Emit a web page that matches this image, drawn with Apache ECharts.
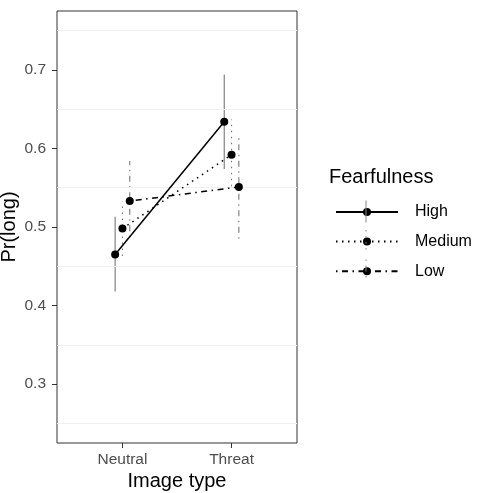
<!DOCTYPE html>
<html><head><meta charset="utf-8">
<script src="https://cdn.jsdelivr.net/npm/echarts@6/dist/echarts.min.js"></script>
<style>html,body{margin:0;padding:0;background:#fff}#c{width:479px;height:493px}</style>
</head><body><div id="c"></div>
<script>
const categories = ['Neutral', 'Threat'];
const groups = ['High', 'Medium', 'Low'];
const estimates = { High: [0.465, 0.634], Medium: [0.498, 0.592], Low: [0.533, 0.551] };
const lower = { High: [0.418, 0.574], Medium: [0.463, 0.552], Low: [0.487, 0.485] };
const upper = { High: [0.513, 0.694], Medium: [0.532, 0.637], Low: [0.584, 0.618] };
const yTicks = [0.3, 0.4, 0.5, 0.6, 0.7];
const gridLines = [0.25, 0.35, 0.45, 0.55, 0.65, 0.75];
const dodge = { High: -0.067, Medium: 0, Low: 0.067 };
const dashes = { High: 'solid', Medium: [1.5, 4.5], Low: [1.5, 4.5, 6, 4.5] };

const font = 'Liberation Sans, Arial, sans-serif';
const series = [];
groups.forEach(g => {
  series.push({
    name: g, type: 'line',
    data: categories.map((c, i) => [i + 1 + dodge[g], estimates[g][i]]),
    symbol: 'circle', symbolSize: 8,
    itemStyle: { color: '#000' },
    lineStyle: { color: '#000', width: 1.5, type: dashes[g] },
    z: 5
  });
  series.push({
    name: g + '_err', type: 'custom',
    data: categories.map((c, i) => [i + 1 + dodge[g], lower[g][i], upper[g][i]]),
    renderItem: function (params, api) {
      const a = api.coord([api.value(0), api.value(1)]);
      const b = api.coord([api.value(0), api.value(2)]);
      return { type: 'line', shape: { x1: a[0], y1: a[1], x2: b[0], y2: b[1] },
        style: { stroke: '#777', lineWidth: 1.1, lineDash: dashes[g] === 'solid' ? null : dashes[g] } };
    },
    encode: { x: 0, y: [1, 2] }, z: 3, silent: true
  });
});
series.push({
  type: 'line', data: [], silent: true,
  markLine: { silent: true, symbol: 'none', label: { show: false },
    lineStyle: { color: '#f0f0f0', width: 1, type: 'solid' },
    data: gridLines.map(v => ({ yAxis: v })) }, z: 1
});

// vertical error-bar glyphs through legend keys
const legendKeyY = [211.5, 241, 270.5];
const keyGraphics = groups.map((g, i) => ({
  type: 'line', silent: true, z: 100,
  shape: { x1: 366, y1: legendKeyY[i] - 11, x2: 366, y2: legendKeyY[i] + 11 },
  style: { stroke: '#888', lineWidth: 1, lineDash: dashes[g] === 'solid' ? null : dashes[g] }
}));

const chart = echarts.init(document.getElementById('c'), null, { renderer: 'canvas' });
chart.setOption({
  animation: false,
  backgroundColor: '#fff',
  textStyle: { fontFamily: font },
  title: { text: 'Fearfulness', left: 324, top: 162,
    textStyle: { fontFamily: font, fontSize: 20, fontWeight: 'normal', color: '#000' } },
  legend: {
    data: groups, orient: 'vertical', left: 330, top: 199,
    itemWidth: 62, itemHeight: 10, itemGap: 13.6,
    textStyle: { fontFamily: font, fontSize: 16, color: '#000', padding: [0, 0, 0, 12] }
  },
  graphic: keyGraphics,
  grid: { left: 57, right: 182, top: 11, bottom: 50, outerBoundsMode: 'none', containLabel: false,
    show: true, borderColor: '#333', borderWidth: 1, backgroundColor: 'transparent' },
  xAxis: {
    type: 'value', min: 0.4, max: 2.6,
    name: 'Image type', nameLocation: 'middle', nameGap: 28, nameMoveOverlap: false,
    nameTextStyle: { fontFamily: font, fontSize: 20, color: '#000' },
    axisLine: { show: false },
    axisTick: { show: true, length: 5, lineStyle: { color: '#333' }, customValues: [1, 2] },
    axisLabel: { customValues: [1, 2], formatter: v => categories[Math.round(v) - 1] || '',
      fontFamily: font, fontSize: 15.5, color: '#4d4d4d', margin: 9 },
    splitLine: { show: false }
  },
  yAxis: {
    type: 'value', min: 0.225, max: 0.775,
    name: 'Pr(long)', nameLocation: 'middle', nameGap: 38, nameRotate: 90, nameMoveOverlap: false,
    nameTextStyle: { fontFamily: font, fontSize: 20, color: '#000' },
    axisLine: { show: false },
    axisTick: { show: true, length: 5, lineStyle: { color: '#333' }, customValues: yTicks },
    axisLabel: { customValues: yTicks, formatter: v => v.toFixed(1),
      fontFamily: font, fontSize: 15.5, color: '#4d4d4d', margin: 11 },
    splitLine: { show: false }
  },
  series: series
});
</script></body></html>
